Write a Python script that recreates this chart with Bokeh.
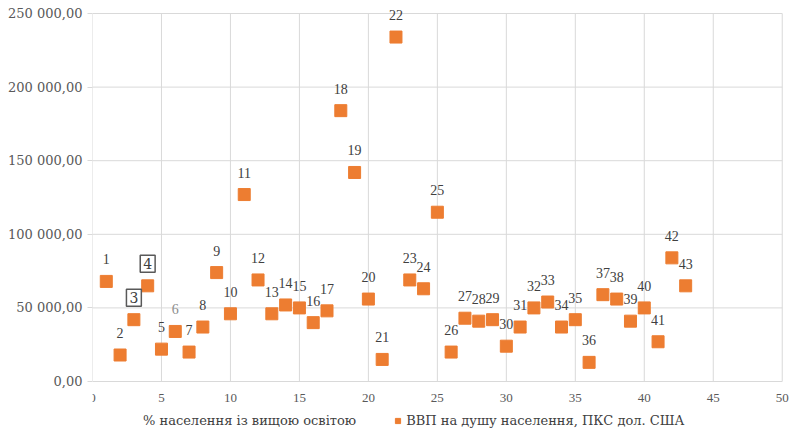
from bokeh.plotting import figure
from bokeh.models import (ColumnDataSource, LabelSet, Label, FixedTicker,
                          CustomJSTickFormatter, Legend, LegendItem, Range1d)
from bokeh.embed import file_html
from bokeh.resources import INLINE

# ---- data ----
edu_pct = [1, 2, 3, 4, 5, 6, 7, 8, 9, 10, 11, 12, 13, 14, 15, 16, 17, 18, 19, 20,
           21, 22, 23, 24, 25, 26, 27, 28, 29, 30, 31, 32, 33, 34, 35, 36, 37, 38,
           39, 40, 41, 42, 43]
gdp_ppp = [68000, 18000, 42000, 65000, 22000, 34000, 20000, 37000, 74000, 46000,
           127000, 69000, 46000, 52000, 50000, 40000, 48000, 184000, 142000, 56000,
           15000, 234000, 69000, 63000, 115000, 20000, 43000, 41000, 42000, 24000,
           37000, 50000, 54000, 37000, 42000, 13000, 59000, 56000, 41000, 50000,
           27000, 84000, 65000]
point_labels = [str(i) for i in range(1, 44)]
boxed_labels = ["3", "4"]
muted_labels = ["6"]
x_ticks = [0, 5, 10, 15, 20, 25, 30, 35, 40, 45, 50]
x_tick_labels = ["0", "5", "10", "15", "20", "25", "30", "35", "40", "45", "50"]
y_ticks = [0, 50000, 100000, 150000, 200000, 250000]
legend_x_title = "% населення із вищою освітою"
legend_series = "ВВП на душу населення, ПКС дол. США"

FONT = "DejaVu Serif"
ORANGE = "#ED7D31"
GRID = "#d9d9d9"

normal = [i for i, l in enumerate(point_labels) if l not in boxed_labels]
boxed = [i for i, l in enumerate(point_labels) if l in boxed_labels]

src_pts = ColumnDataSource(dict(x=edu_pct, y=gdp_ppp))
src_norm = ColumnDataSource(dict(
    x=[edu_pct[i] for i in normal], y=[gdp_ppp[i] for i in normal],
    t=[point_labels[i] for i in normal],
    c=["#8c8c8c" if point_labels[i] in muted_labels else "#404040" for i in normal]))

# frame spans the whole height; the x axis is drawn at y = 0 inside it
p = figure(width=794, height=430, output_backend="svg", toolbar_location=None,
           x_range=Range1d(0, 50.6), y_range=Range1d(-32600, 258150),
           min_border_left=92, min_border_right=4, min_border_top=1,
           min_border_bottom=1)
p.outline_line_color = None
p.background_fill_color = "white"
p.xaxis.visible = False
p.xgrid.visible = False
p.ygrid.visible = False

# grid lines spanning exactly the tick extents
n = len(x_ticks)
m = len(y_ticks)
p.segment(x0=x_ticks, y0=[y_ticks[0]] * n, x1=x_ticks, y1=[y_ticks[-1]] * n,
          line_color=GRID, line_width=1)
p.segment(x0=[x_ticks[0]] * m, y0=y_ticks, x1=[x_ticks[-1]] * m, y1=y_ticks,
          line_color=GRID, line_width=1)

r = p.scatter("x", "y", source=src_pts, marker="square", size=12,
              fill_color=ORANGE, line_color=ORANGE)
dummy = p.scatter(x=[], y=[], marker="square", fill_alpha=0, line_alpha=0)

ax = p.yaxis[0]
ax.axis_line_color = None
ax.bounds = (y_ticks[0], y_ticks[-1])
ax.major_tick_line_color = GRID
ax.major_tick_out = 5
ax.major_tick_in = 0
ax.minor_tick_line_color = None
ax.major_label_text_font = FONT
ax.major_label_text_font_size = "13px"
ax.major_label_text_color = "#595959"
ax.major_label_standoff = 5
ax.ticker = FixedTicker(ticks=y_ticks)
ax.formatter = CustomJSTickFormatter(code=r"""
const s = Math.round(tick).toString().replace(/\B(?=(\d{3})+(?!\d))/g, ' ');
return s + ',00';
""")

# x tick labels under the zero line
src_xt = ColumnDataSource(dict(x=x_ticks, y=[y_ticks[0]] * n, t=x_tick_labels))
p.add_layout(LabelSet(x="x", y="y", text="t", source=src_xt, y_offset=-16,
                      text_align="center", text_baseline="middle",
                      text_font=FONT, text_font_size="13px", text_color="#595959"))

lab = LabelSet(x="x", y="y", text="t", source=src_norm, y_offset=22,
               text_align="center", text_baseline="middle",
               text_font=FONT, text_font_size="14px", text_color="c")
p.add_layout(lab)
for i in boxed:
    p.add_layout(Label(x=edu_pct[i], y=gdp_ppp[i], text=point_labels[i], y_offset=22,
                       text_align="center", text_baseline="middle",
                       text_font=FONT, text_font_size="14px", text_color="#404040",
                       border_line_color="#595959", border_line_width=1.5, padding=3))

legend = Legend(items=[LegendItem(label=legend_x_title, renderers=[dummy]),
                       LegendItem(label=legend_series, renderers=[r])],
                orientation="horizontal", location=(36, 1),
                padding=0, margin=0, spacing=35, glyph_width=13, glyph_height=13,
                label_standoff=2, label_text_font=FONT,
                label_text_font_size="13px", label_text_color="#404040",
                border_line_color=None, background_fill_alpha=0)
p.add_layout(legend, "center")

open("out.html", "w").write(file_html(p, INLINE))
